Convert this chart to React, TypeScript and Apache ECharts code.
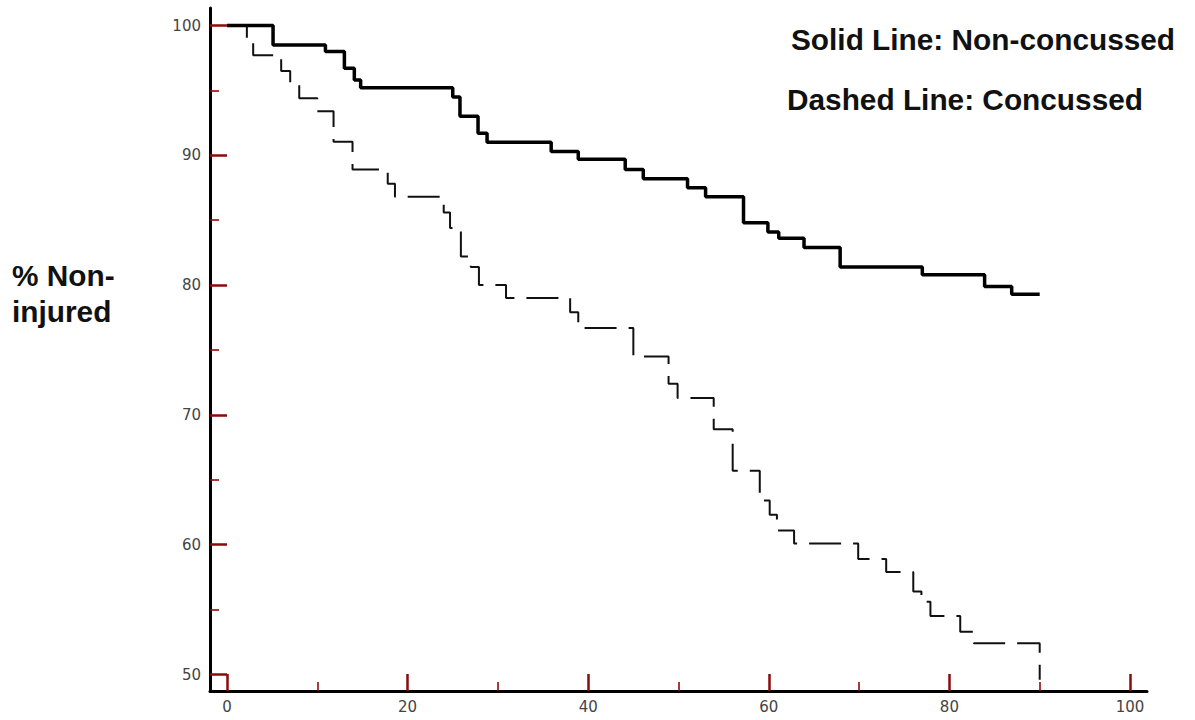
import React, { useEffect, useRef } from "react";
import * as echarts from "echarts";

// Kaplan-Meier steps
const nonConcussedTime = [0, 5.1, 10.9, 13.0, 14.1, 14.8, 25.0, 25.8, 27.8, 28.8, 35.9, 38.9, 44.1, 46.1, 51.0, 53.0, 57.2, 59.9, 61.1, 63.9, 67.9, 77.0, 83.9, 86.9, 90.0];
const nonConcussedPct = [100, 98.5, 98.0, 96.7, 95.8, 95.2, 94.5, 93.0, 91.7, 91.0, 90.3, 89.7, 88.9, 88.2, 87.5, 86.8, 84.8, 84.1, 83.6, 82.9, 81.4, 80.8, 79.9, 79.3, 79.3];

const concussedTime = [0, 2.2, 2.9, 6.0, 7.0, 8.0, 10.0, 11.8, 13.9, 17.8, 18.6, 24.0, 24.7, 25.9, 27.0, 27.9, 30.9, 38.0, 38.9, 45.0, 48.9, 49.9, 53.9, 56.0, 59.0, 60.1, 60.9, 62.8, 69.9, 73.0, 76.0, 76.9, 77.9, 81.2, 82.7, 90.0];
const concussedPct = [100, 98.8, 97.7, 96.5, 95.5, 94.4, 93.4, 91.05, 88.9, 87.8, 86.8, 85.6, 84.4, 82.2, 81.4, 80.0, 79.0, 77.9, 76.7, 74.5, 72.4, 71.3, 68.9, 65.7, 63.4, 62.3, 61.1, 60.1, 58.9, 57.9, 56.4, 55.6, 54.5, 53.3, 52.4, 49.6];

const xTickMin = 0;
const xTickMax = 100;
const xTickStep = 20;
const yTickMin = 50;
const yTickMax = 100;
const yTickStep = 10;

const yAxisName = ["% Non-", "injured"];
const legendLines = ["Solid Line: Non-concussed", "Dashed Line: Concussed"];

const TICK_RED = "#8b0a0a";

export default function App() {
  const ref = useRef<HTMLDivElement>(null);

  useEffect(() => {
    if (!ref.current) return;
    const chart = echarts.init(ref.current, undefined, { renderer: "svg" });

    const solid = nonConcussedTime.map((t, i) => [t, nonConcussedPct[i]]);
    const dashed = concussedTime.map((t, i) => [t, concussedPct[i]]);

    const boldText = {
      fontFamily: "Liberation Sans, Arial, sans-serif",
      fontWeight: "bold",
      fontSize: 29.8,
      fill: "#111",
    };

    chart.setOption({
      animation: false,
      backgroundColor: "#ffffff",
      grid: [
        { left: 227, right: 65, top: 25.5, bottom: 45.5, containLabel: false },
        { left: 210, right: 48, top: 8, bottom: 29, containLabel: false },
      ],
      xAxis: [
        {
          type: "value",
          gridIndex: 0,
          min: xTickMin,
          max: xTickMax,
          interval: xTickStep,
          offset: 16.5,
          axisLine: { show: false, onZero: false },
          axisTick: { show: true, inside: true, length: 17, lineStyle: { color: TICK_RED, width: 2.5 } },
          minorTick: { show: true, splitNumber: 2, length: 9, lineStyle: { color: TICK_RED, width: 1.6 } },
          axisLabel: { show: true, margin: 8, color: "#444", fontSize: 15, fontFamily: "DejaVu Sans" },
          splitLine: { show: false },
        },
        {
          type: "value",
          gridIndex: 1,
          min: -1.9,
          max: 101.9,
          axisLine: { show: true, onZero: false, lineStyle: { color: "#000", width: 3 } },
          axisTick: { show: false },
          axisLabel: { show: false },
          splitLine: { show: false },
        },
      ],
      yAxis: [
        {
          type: "value",
          gridIndex: 0,
          min: yTickMin,
          max: yTickMax,
          interval: yTickStep,
          offset: 17,
          axisLine: { show: false, onZero: false },
          axisTick: { show: true, inside: true, length: 17, lineStyle: { color: TICK_RED, width: 2.5 } },
          minorTick: { show: true, splitNumber: 2, length: 9, lineStyle: { color: TICK_RED, width: 1.6 } },
          axisLabel: { show: true, margin: 9, color: "#444", fontSize: 15, fontFamily: "DejaVu Sans" },
          splitLine: { show: false },
        },
        {
          type: "value",
          gridIndex: 1,
          min: 48.73,
          max: 101.35,
          axisLine: { show: true, onZero: false, lineStyle: { color: "#000", width: 3 } },
          axisTick: { show: false },
          axisLabel: { show: false },
          splitLine: { show: false },
        },
      ],
      series: [
        {
          name: "Concussed",
          type: "line",
          xAxisIndex: 0,
          yAxisIndex: 0,
          step: "end",
          showSymbol: false,
          clip: false,
          data: dashed,
          lineStyle: { color: "#111", width: 2, type: [32, 12] },
          z: 3,
        },
        {
          name: "Non-concussed",
          type: "line",
          xAxisIndex: 0,
          yAxisIndex: 0,
          step: "end",
          showSymbol: false,
          clip: false,
          data: solid,
          lineStyle: { color: "#000", width: 3.5, type: "solid" },
          z: 4,
        },
      ],
      graphic: [
        { type: "text", left: 12, top: 260, style: { ...boldText, text: yAxisName[0] } },
        { type: "text", left: 12, top: 296, style: { ...boldText, text: yAxisName[1] } },
        { type: "text", left: 791, top: 24, style: { ...boldText, text: legendLines[0] } },
        { type: "text", left: 787, top: 84, style: { ...boldText, text: legendLines[1] } },
      ],
    });

    return () => chart.dispose();
  }, []);

  return (
    <div
      ref={ref}
      style={{ position: "fixed", left: 0, top: 0, width: 1195, height: 720, background: "#fff" }}
    />
  );
}
